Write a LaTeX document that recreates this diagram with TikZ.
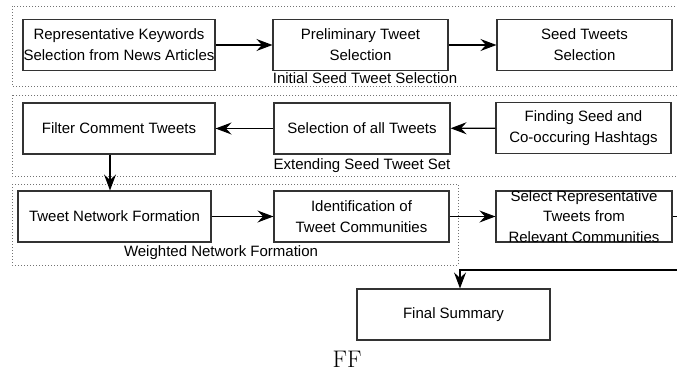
\documentclass[tikz,border=0pt]{standalone}
\usepackage{fontspec}
\usetikzlibrary{arrows.meta}
\newfontfamily\boxfont{Liberation Sans}

\tikzset{
  stage/.style={draw=black!80, line width=1.1pt, minimum height=51pt, inner sep=0pt,
    align=center, font=\boxfont\fontsize{15}{21}\selectfont},
  group/.style={draw=black!55, dotted, line width=1pt},
  grouplabel/.style={font=\boxfont\fontsize{15}{18}\selectfont, inner sep=0pt},
  flow/.style={-{Stealth[length=16pt,width=12pt,inset=5.5pt]}, line width=1.1pt},
}

\begin{document}
\begin{tikzpicture}[x=1pt,y=-1pt]
          \clip (0,0) rectangle (677,372);

          % dotted groups
          \draw[group] (12,6) rectangle (700,86);
          \draw[group] (12,95) rectangle (700,176);
          \draw[group] (12,184) rectangle (458,265);
          \node[grouplabel] (initlbl) at (365,78) {Initial Seed Tweet Selection};
          \node[grouplabel] (extlbl) at (362,166) {Extending Seed Tweet Set};
          \node[grouplabel] (wnflbl) at (221,253) {Weighted Network Formation};

          \node[stage, minimum width=192pt] (rks) at (119,45) {Representative Keywords\\Selection from News Articles};
          \node[stage, minimum width=175pt] (pts) at (360.5,45) {Preliminary Tweet\\Selection};
          \node[stage, minimum width=175pt] (sts) at (584.5,45) {Seed Tweets\\Selection};

          \node[stage, minimum width=192pt] (fct) at (119,128.5) {Filter Comment Tweets};
          \node[stage, minimum width=176pt] (sat) at (362,128.5) {Selection of all Tweets};
          \node[stage, minimum width=175pt] (fsh) at (583.5,128) {Finding Seed and\\Co-occuring Hashtags};

          \node[stage, minimum width=193pt] (tnf) at (114.5,216.5) {Tweet Network Formation};
          \node[stage, minimum width=175pt] (itc) at (361.5,216.5) {Identification of\\Tweet Communities};
          \node[stage, minimum width=176pt,
            label={[align=center, font=\boxfont\fontsize{15}{20.5}\selectfont]center:Select Representative\\Tweets from\\Relevant Communities}] (srt) at (584,216.5) {};

          \node[stage, minimum width=193pt] (fs) at (453.5,314.5) {Final Summary};

          \node[font=\fontsize{24}{28}\selectfont, inner sep=0pt] (ff) at (347,359) {FF};

          \draw[flow] (rks) -- (pts);
          \draw[flow] (pts) -- (sts);
          \draw[flow] (fsh) -- (sat);
          \draw[flow] (sat) -- (fct);
          \draw[flow] ([xshift=-9pt]fct.south) -- ([xshift=-9pt]fct.south |- tnf.north);
          \draw[flow] (tnf) -- (itc);
          \draw[flow] (itc.east) -- (srt.west);
          \coordinate (turn) at (460,270);
          \draw[flow] (srt.east) -- ++(30,0) |- (turn) -- (turn |- fs.north);
\end{tikzpicture}
\end{document}
